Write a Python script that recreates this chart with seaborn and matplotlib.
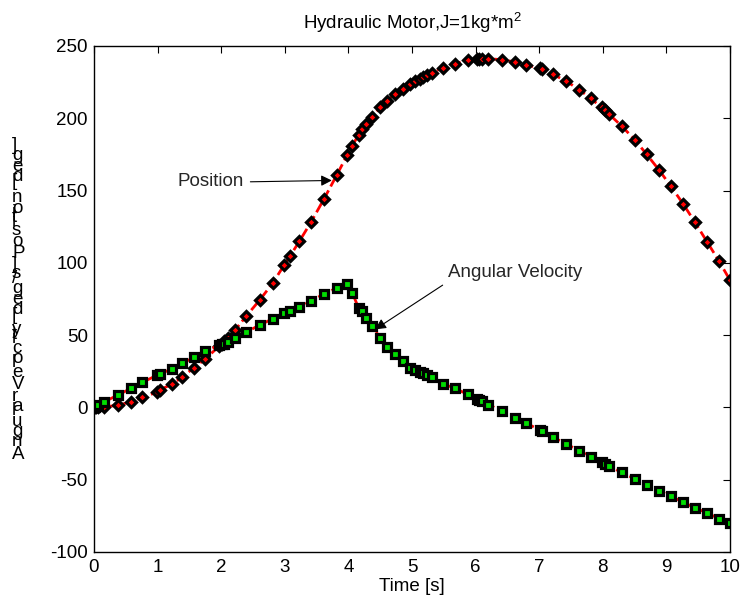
"""
Hydraulic motor response: position and angular velocity vs time
"""

import pandas as pd
import matplotlib
matplotlib.use("Agg")
import matplotlib.pyplot as plt
import seaborn as sns
from matplotlib.font_manager import FontProperties

# simulation output
time_s = [0.00, 0.01, 0.03, 0.06, 0.16, 0.37, 0.58, 0.76, 0.99, 1.03,
          1.22, 1.39, 1.57, 1.75, 1.97, 2.01, 2.05, 2.10, 2.22, 2.39,
          2.61, 2.81, 2.99, 3.08, 3.23, 3.41, 3.62, 3.82, 3.98, 4.06,
          4.16, 4.22, 4.28, 4.37, 4.50, 4.60, 4.74, 4.86, 4.97, 5.05,
          5.12, 5.18, 5.24, 5.31, 5.48, 5.67, 5.88, 6.02, 6.06, 6.10,
          6.20, 6.41, 6.62, 6.80, 7.01, 7.05, 7.21, 7.42, 7.63, 7.81,
          7.98, 8.03, 8.09, 8.30, 8.51, 8.69, 8.88, 9.07, 9.26, 9.45,
          9.64, 9.83, 10.00]

position_deg = [0.0, 0.0, 0.0, 0.1, 0.3, 1.5, 3.8, 7.0, 10.5, 12.0,
                16.0, 21.0, 27.5, 33.5, 42.5, 44.2, 46.0, 48.2, 53.6, 63.0,
                74.5, 86.0, 98.5, 104.5, 115.0, 128.0, 144.5, 161.0, 174.5, 181.0,
                188.5, 192.5, 196.0, 201.0, 207.5, 212.0, 217.0, 220.5, 223.5, 225.5,
                227.3, 228.8, 230.0, 231.5, 234.8, 237.8, 240.0, 240.8, 241.0, 241.2,
                241.3, 240.5, 239.0, 237.0, 234.5, 233.8, 230.5, 225.8, 219.8, 213.8,
                207.5, 205.5, 203.2, 194.5, 184.8, 175.0, 164.5, 153.0, 141.0, 128.0,
                114.5, 101.0, 88.0]

velocity_degs = [0.0, 0.3, 0.8, 1.5, 3.9, 8.4, 13.2, 17.4, 22.2, 23.0,
                 26.6, 30.5, 34.6, 39.0, 43.0, 43.6, 44.2, 45.0, 47.9, 52.0,
                 57.1, 61.3, 65.4, 67.0, 69.5, 73.4, 78.7, 82.6, 85.4, 79.4,
                 68.8, 66.6, 61.9, 56.2, 48.2, 41.7, 36.7, 32.1, 27.5, 26.0,
                 24.5, 23.5, 22.3, 21.0, 16.5, 13.3, 9.0, 6.0, 5.2, 4.2,
                 2.0, -2.4, -7.0, -11.0, -15.6, -16.6, -20.3, -25.3, -29.8, -34.2,
                 -38.0, -39.0, -40.5, -45.0, -49.5, -53.5, -57.5, -61.5, -65.5, -69.5,
                 -73.0, -77.0, -80.0]

title = "Hydraulic Motor,J=1kg*m$^2$"
xlabel = "Time [s]"
ylabel = "Angular Velocity [deg/s] Position [deg]"
xticks = [0, 1, 2, 3, 4, 5, 6, 7, 8, 9, 10]
yticks = [-100, -50, 0, 50, 100, 150, 200, 250]

df = pd.DataFrame({"time": time_s, "position": position_deg, "velocity": velocity_degs})

sns.set_style("white")
plt.rcParams["font.family"] = ["Liberation Sans", "DejaVu Sans"]
plt.rcParams["mathtext.fontset"] = "custom"
plt.rcParams["mathtext.rm"] = "Liberation Sans"
plt.rcParams["mathtext.default"] = "regular"
plt.rcParams["axes.unicode_minus"] = False
FS = 13.5

fig = plt.figure(figsize=(7.42, 6.06), dpi=100)
ax = fig.add_axes([94 / 742, 54 / 606, 636 / 742, 506 / 606])

sns.lineplot(data=df, x="time", y="position", ax=ax, estimator=None, sort=False,
             color="red", linestyle="--", linewidth=2,
             marker="D", markersize=5, markerfacecolor="red",
             markeredgecolor="black", markeredgewidth=2.3)
sns.lineplot(data=df, x="time", y="velocity", ax=ax, estimator=None, sort=False,
             color="red", linestyle="--", linewidth=2,
             marker="s", markersize=5.5, markerfacecolor="#00dd00",
             markeredgecolor="black", markeredgewidth=2.3)

ax.set_xlim(0, 10)
ax.set_ylim(-100, 250)
ax.set_xticks(xticks)
ax.set_yticks(yticks)
ax.tick_params(direction="in", length=5, width=0.8, top=True, right=True,
               labelsize=FS, colors="black")
ax.tick_params(axis="x", pad=5)
ax.tick_params(axis="y", pad=4.5)
for sp in ax.spines.values():
    sp.set_color("black")
    sp.set_linewidth(1.0)

ax.set_title(title, fontsize=FS, pad=12, color="black")
ax.set_xlabel(xlabel, fontsize=FS, labelpad=1.5, color="black")
ax.set_ylabel("")

arrow = dict(arrowstyle="-|>", color="black", lw=0.8, mutation_scale=16,
             shrinkA=2, shrinkB=0)
ax.annotate("Position", xy=(3.74, 157), xytext=(1.32, 156), fontsize=FS,
            ha="left", va="center", arrowprops={**arrow, "relpos": (1, 0.5)})
ax.annotate("Angular Velocity", xy=(4.42, 54), xytext=(5.57, 93), fontsize=FS,
            ha="left", va="center", arrowprops={**arrow, "relpos": (0, 0)})

# y label drawn as upright glyphs stacked along the vertical (as in the original export)
renderer = fig.canvas.get_renderer()
fp = FontProperties(family="Liberation Sans", size=FS)
ref_w = renderer.get_text_width_height_descent("I", fp, ismath=False)[0]
base_px = 459
for i, ch in enumerate(ylabel):
    if ch == " ":
        continue
    adv = 0.0
    if i:
        adv = renderer.get_text_width_height_descent(ylabel[:i] + "I", fp, ismath=False)[0] - ref_w
    fig.text(12 / 742, (606 - (base_px - adv)) / 606, ch, fontproperties=fp,
             ha="left", va="baseline", color="black")

fig.savefig("out.png", dpi=100)
print("Saved: out.png")
